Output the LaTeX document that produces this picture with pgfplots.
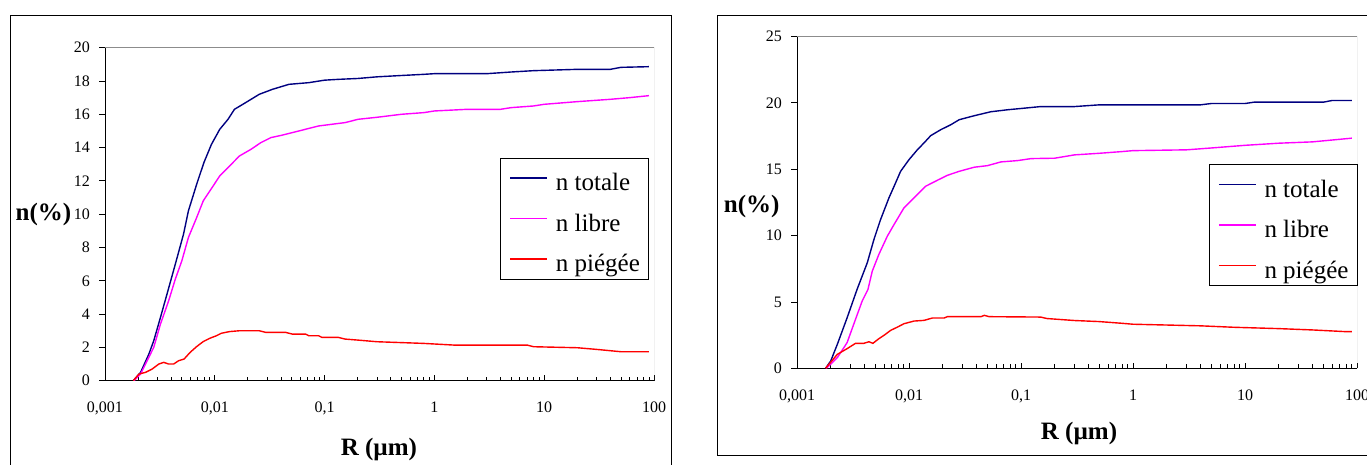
\documentclass[border=0pt]{standalone}
\usepackage{fontspec}
\setmainfont{Liberation Serif}
\usepackage{pgfplots}
\pgfplotsset{compat=1.18}
\definecolor{xlnavy}{RGB}{0,0,128}
\definecolor{xlmag}{RGB}{255,0,255}
\definecolor{xlred}{RGB}{255,0,0}
\definecolor{xlgray}{RGB}{140,140,140}

\pgfplotstableread{
x y
0.00181 0
0.00211 0.5
0.00251 1.6
0.00278 2.4
0.0032 3.8
0.00367 5.2
0.00437 7.0
0.00519 8.8
0.00575 10.2
0.00684 11.8
0.00796 13.1
0.00933 14.2
0.0111 15.1
0.0132 15.7
0.0151 16.3
0.018 16.6
0.0214 16.9
0.0254 17.2
0.0335 17.5
0.0474 17.8
0.0718 17.9
0.1 18.05
0.134 18.1
0.2 18.15
0.3 18.25
0.5 18.33
0.8 18.4
1 18.44
3 18.44
5 18.54
8 18.62
20 18.7
40 18.7
50 18.82
90 18.86
}\LeftTot

\pgfplotstableread{
x y
0.00184 0
0.00211 0.4
0.00242 1.2
0.00278 2.0
0.0032 3.4
0.0038 4.8
0.00437 6.1
0.00501 7.2
0.00575 8.6
0.00684 9.8
0.00785 10.8
0.00902 11.4
0.0111 12.3
0.01365 12.9
0.0168 13.5
0.0214 13.9
0.0263 14.3
0.0324 14.6
0.0413 14.75
0.0508 14.9
0.067 15.1
0.0883 15.3
0.1164 15.4
0.1535 15.5
0.202 15.7
0.3 15.82
0.5 16.0
0.8 16.1
1 16.2
2 16.3
4 16.3
5 16.4
8 16.5
10 16.6
20 16.76
40 16.9
60 17.0
90 17.12
}\LeftLib

\pgfplotstableread{
x y
0.00181 0
0.00204 0.4
0.00234 0.5
0.00269 0.7
0.00309 1.0
0.00343 1.1
0.0038 1.0
0.00422 1.0
0.00468 1.2
0.00525 1.3
0.00596 1.7
0.00684 2.05
0.00785 2.35
0.00902 2.55
0.01035 2.7
0.01148 2.85
0.01365 2.95
0.0168 3.0
0.0254 3.0
0.0292 2.9
0.0443 2.9
0.0508 2.8
0.067 2.8
0.0718 2.7
0.0883 2.7
0.0946 2.6
0.1337 2.6
0.1535 2.5
0.2 2.44
0.3 2.34
0.8 2.24
1.5 2.14
7 2.14
8 2.04
20 1.98
30 1.88
50 1.74
90 1.74
}\LeftPie

\pgfplotstableread{
x y
0.0018 0
0.002 0.55
0.00229 1.8
0.0028 3.8
0.00344 5.95
0.00424 7.95
0.00486 9.7
0.00557 11.2
0.00662 12.84
0.00759 13.97
0.00841 14.84
0.01 15.72
0.01189 16.47
0.01361 16.98
0.01563 17.53
0.01923 17.98
0.0236 18.35
0.02805 18.73
0.0382 19.03
0.0538 19.33
0.076 19.48
0.107 19.6
0.15 19.72
0.3 19.72
0.5 19.85
4 19.85
5 19.95
10 19.95
12 20.05
50 20.05
60 20.18
90 20.18
}\RightTot

\pgfplotstableread{
x y
0.00183 0
0.00229 0.8
0.0028 1.93
0.00333 3.69
0.00382 5.07
0.0043 5.94
0.0047 7.32
0.00538 8.58
0.0064 9.95
0.00735 10.83
0.00902 12.09
0.0111 12.84
0.0141 13.72
0.01795 14.17
0.022 14.54
0.02805 14.84
0.0382 15.15
0.0502 15.27
0.0662 15.55
0.0933 15.65
0.123 15.8
0.2 15.83
0.3 16.08
0.5 16.2
0.8 16.33
1 16.4
3 16.46
5 16.6
10 16.8
20 16.96
40 17.06
60 17.2
90 17.34
}\RightLib

\pgfplotstableread{
x y
0.0018 0
0.00229 1.05
0.0028 1.48
0.00333 1.88
0.00395 1.88
0.00439 2.0
0.00476 1.88
0.00538 2.23
0.00597 2.48
0.00686 2.86
0.00787 3.1
0.00902 3.36
0.0111 3.56
0.0136 3.61
0.0162 3.79
0.0206 3.79
0.022 3.89
0.0439 3.89
0.047 3.99
0.052 3.89
0.15 3.86
0.17 3.75
0.3 3.6
0.5 3.52
0.8 3.39
1 3.32
4 3.2
8 3.09
20 2.99
40 2.89
80 2.76
90 2.76
}\RightPie

\pgfplotsset{
  every axis plot/.append style={line width=1.4pt},
  legend image code/.code={\draw[#1, line width=1.4pt] (0pt,0pt) -- (37pt,0pt);},
}

\begin{document}
\begin{tikzpicture}
\path[use as bounding box] (0pt,0pt) rectangle (1367pt,465pt);
\draw[line width=1pt] (10.7pt,-10pt) -- (10.7pt,449.3pt) -- (671pt,449.3pt) -- (671pt,-10pt);
\draw[line width=1pt] (1380pt,9pt) -- (717.7pt,9pt) -- (717.7pt,449pt) -- (1380pt,449pt);

\begin{axis}[
  scale only axis,
  xmode=log, xmin=0.001, xmax=100,
  at={(105pt,84.3pt)}, anchor=south west,
  width=549pt, height=333pt,
  ymin=0, ymax=20, ytick={0,2,...,20},
  axis lines=left,
  axis line style={-, line width=0.9pt, black},
  tick align=inside,
  major tick length=5.7pt, minor tick length=4pt,
  tick style={black, line width=0.8pt},
  every major y tick/.append style={xshift=-5.7pt},
  xtick={0.001,0.01,0.1,1,10,100},
  xticklabels={{0,001},{0,01},{0,1},1,10,100},
  minor xtick={0.002,0.003,0.004,0.005,0.006,0.007,0.008,0.009,
    0.02,0.03,0.04,0.05,0.06,0.07,0.08,0.09,
    0.2,0.3,0.4,0.5,0.6,0.7,0.8,0.9,
    2,3,4,5,6,7,8,9,20,30,40,50,60,70,80,90},
  tick label style={font=\fontsize{16}{19}\selectfont, inner sep=0pt},
  /pgf/number format/assume math mode=true,
  yticklabel style={anchor=east, xshift=-15pt},
  xticklabel style={anchor=north, yshift=-21pt},
  every axis y label/.style={at={(axis description cs:-0.112,0.498)}, anchor=center,
    font=\bfseries\fontsize{25}{30}\selectfont},
  every axis x label/.style={at={(axis description cs:0.499,-0.208)}, anchor=center,
    font=\bfseries\fontsize{25}{30}\selectfont},
  ylabel={n(\%)}, xlabel={R (µm)},
  legend cell align=left,
  legend style={at={(axis description cs:0.7195,0.6697)}, anchor=north west,
    draw=black, line width=1pt, fill=white,
    font=\fontsize{25}{30}\selectfont,
    inner xsep=9pt, inner ysep=0.5pt,
    column sep=8pt, row sep=1.5pt,
    nodes={inner sep=0pt, text height=32pt, text depth=7pt}},
]
\draw[xlgray, line width=1pt] (rel axis cs:0,1) -- (rel axis cs:1,1) -- (rel axis cs:1,0);
\addplot[xlnavy] table[x=x,y=y] {\LeftTot};
\addplot[xlmag] table[x=x,y=y] {\LeftLib};
\addplot[xlred] table[x=x,y=y] {\LeftPie};
\legend{n totale, n libre, n piégée}
\end{axis}

\begin{axis}[
  scale only axis,
  xmode=log, xmin=0.001, xmax=100,
  at={(797pt,96.7pt)}, anchor=south west,
  width=560pt, height=331.8pt,
  ymin=0, ymax=25, ytick={0,5,...,25},
  axis lines=left,
  axis line style={-, line width=0.9pt, black},
  tick align=inside,
  major tick length=5.7pt, minor tick length=4pt,
  tick style={black, line width=0.8pt},
  every major y tick/.append style={xshift=-5.7pt},
  xtick={0.001,0.01,0.1,1,10,100},
  xticklabels={{0,001},{0,01},{0,1},1,10,100},
  minor xtick={0.002,0.003,0.004,0.005,0.006,0.007,0.008,0.009,
    0.02,0.03,0.04,0.05,0.06,0.07,0.08,0.09,
    0.2,0.3,0.4,0.5,0.6,0.7,0.8,0.9,
    2,3,4,5,6,7,8,9,20,30,40,50,60,70,80,90},
  tick label style={font=\fontsize{16}{19}\selectfont, inner sep=0pt},
  /pgf/number format/assume math mode=true,
  yticklabel style={anchor=east, xshift=-15pt},
  xticklabel style={anchor=north, yshift=-21pt},
  every axis y label/.style={at={(axis description cs:-0.081,0.489)}, anchor=center,
    font=\bfseries\fontsize{25}{30}\selectfont},
  every axis x label/.style={at={(axis description cs:0.5036,-0.195)}, anchor=center,
    font=\bfseries\fontsize{25}{30}\selectfont},
  ylabel={n(\%)}, xlabel={R (µm)},
  legend cell align=left,
  legend style={at={(axis description cs:0.735,0.6157)}, anchor=north west,
    draw=black, line width=1pt, fill=white,
    font=\fontsize{25}{30}\selectfont,
    inner xsep=9pt, inner ysep=0.5pt,
    column sep=8pt, row sep=1.5pt,
    nodes={inner sep=0pt, text height=32pt, text depth=7pt}},
]
\draw[xlgray, line width=1pt] (rel axis cs:0,1) -- (rel axis cs:1,1) -- (rel axis cs:1,0);
\addplot[xlnavy] table[x=x,y=y] {\RightTot};
\addplot[xlmag] table[x=x,y=y] {\RightLib};
\addplot[xlred] table[x=x,y=y] {\RightPie};
\legend{n totale, n libre, n piégée}
\end{axis}
\end{tikzpicture}
\end{document}
